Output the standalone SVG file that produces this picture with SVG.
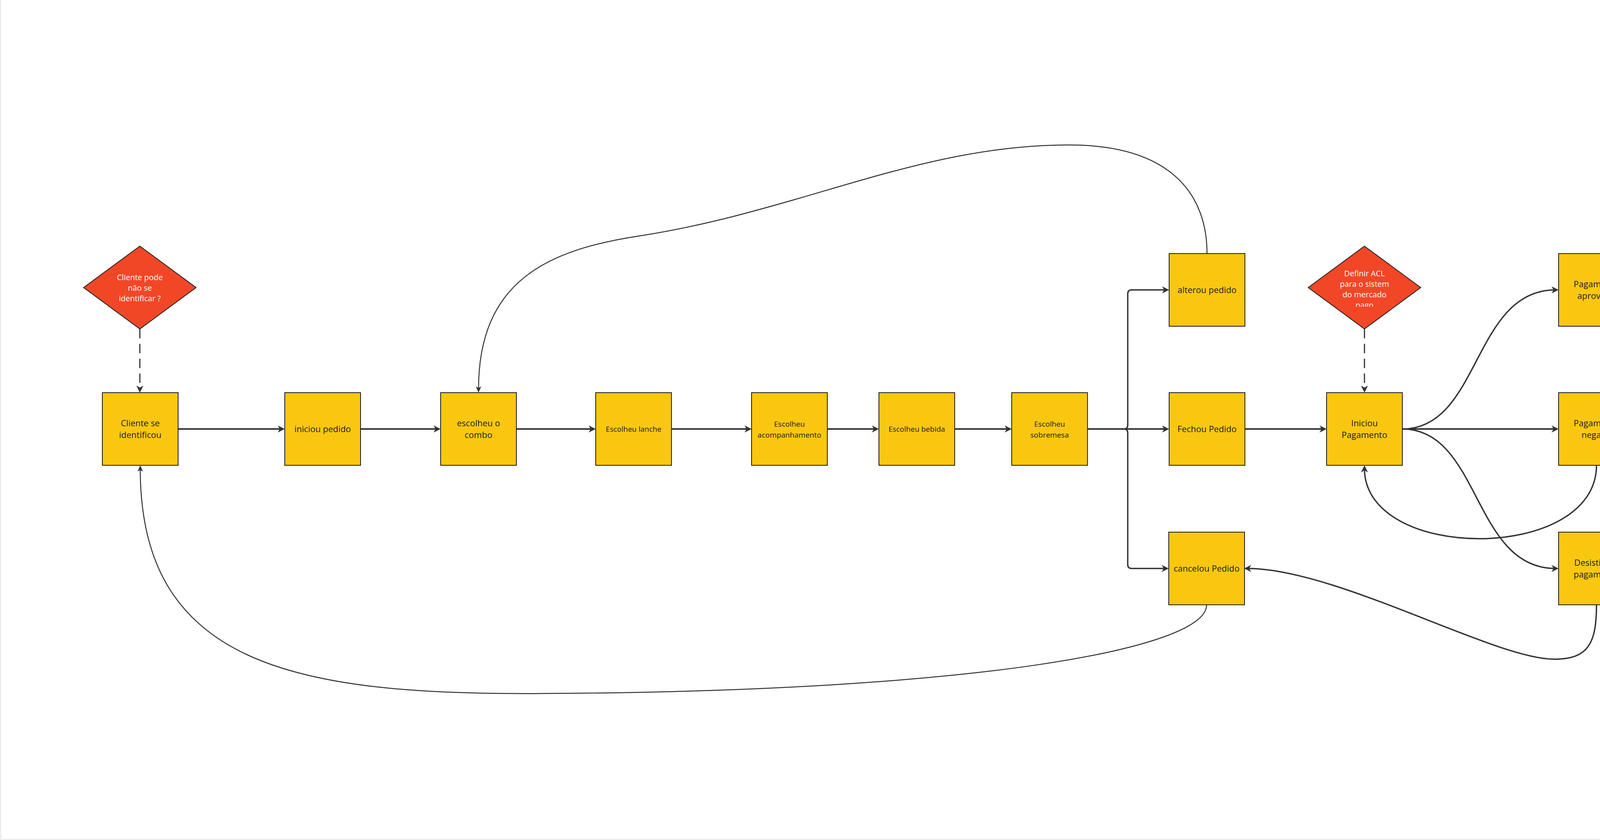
<svg xmlns="http://www.w3.org/2000/svg" width="7441" height="2150" viewBox="0 0 7441 2150">
  <defs>
    <style>
      .node rect { fill: #FAC710; stroke: #1a1a1a; stroke-width: 2; }
      .dec polygon { fill: #F24726; stroke: #1a1a1a; stroke-width: 2; }
      text { font-family: 'Open Sans', 'Liberation Sans', sans-serif; text-anchor: middle; }
      .t22 { font-size: 22px; fill: #1a1a1a; }
      .t19 { font-size: 19px; fill: #1a1a1a; }
      .d20 { font-size: 20px; fill: #ffffff; }
      .ln { fill: none; stroke: #333333; stroke-width: 4; }
      .tr { fill: none; stroke: #333333; stroke-width: 3.5; }
      .cv { fill: none; stroke: #333333; stroke-width: 3.5; }
      .cl { fill: none; stroke: #333333; stroke-width: 2.5; }
      .ds { fill: none; stroke: #333333; stroke-width: 3; stroke-dasharray: 24 14; }
    </style>
    <marker id="arr" markerUnits="userSpaceOnUse" markerWidth="20" markerHeight="20" refX="10" refY="9" orient="auto">
      <path d="M0,0 L18,9 L0,18 L5,9 Z" fill="#333333"/>
    </marker>
    <marker id="arrs" markerUnits="userSpaceOnUse" markerWidth="18" markerHeight="16" refX="8" refY="7" orient="auto">
      <path d="M0,0 L16,7 L0,14 L4,7 Z" fill="#333333"/>
    </marker>
    <clipPath id="clipD2">
      <rect x="3340" y="620" width="310" height="165"/>
    </clipPath>
  </defs>

  <rect x="0" y="0" width="7441" height="2150" fill="#ffffff"/>
  <rect x="0" y="0" width="3" height="2150" fill="#ececec"/>
  <rect x="0" y="2147" width="7441" height="3" fill="#ececec"/>

  <g id="connectors">
    <path class="ds" d="M358,842 V997" marker-end="url(#arr)"/>
    <path class="ds" d="M3493,842 V997" marker-end="url(#arr)"/>

    <path class="ln" d="M456,1098 H721" marker-end="url(#arr)"/>
    <path class="ln" d="M923,1098 H1120" marker-end="url(#arr)"/>
    <path class="ln" d="M1322,1098 H1517" marker-end="url(#arr)"/>
    <path class="ln" d="M1720,1098 H1916" marker-end="url(#arr)"/>
    <path class="ln" d="M2118,1098 H2242" marker-end="url(#arr)"/>
    <path class="ln" d="M2444,1098 H2582" marker-end="url(#arr)"/>

    <path class="ln" d="M2784,1098 H2985" marker-end="url(#arr)"/>
    <path class="tr" d="M2784,1098 H2877 Q2887,1098 2887,1088 V752 Q2887,742 2897,742 H2985" marker-end="url(#arr)"/>
    <path class="tr" d="M2784,1098 H2877 Q2887,1098 2887,1108 V1445 Q2887,1455 2897,1455 H2984" marker-end="url(#arr)"/>

    <path class="ln" d="M3187,1098 H3388" marker-end="url(#arr)"/>
    <path class="ln" d="M3590,1098 H3982" marker-end="url(#arr)"/>
    <path class="cv" d="M3590,1098 C3790,1098 3770,742 3982,742" marker-end="url(#arr)"/>
    <path class="cv" d="M3590,1098 C3790,1098 3770,1455 3982,1455" marker-end="url(#arr)"/>
    <path class="cv" d="M4087,1191 C4087,1440 3493,1440 3493,1199" marker-end="url(#arr)"/>
    <path class="cv" d="M4087,1548 C4087,1640 4070,1690 3975,1687 C3820,1684 3420,1455 3193,1455" marker-end="url(#arr)"/>
    <path class="cv" d="M4184,742 C4340,742 4360,1098 4533,1098" marker-end="url(#arr)"/>

    <path class="cl" d="M3090,649 C3090,500 3000,371 2737,371 C2350,371 2050,540 1636,604 C1400,640 1225,720 1225,997" marker-end="url(#arrs)"/>
    <path class="cl" d="M3089,1548 C3089,1660 2500,1770 1391,1775 C750,1780 359,1700 359,1199" marker-end="url(#arrs)"/>

    <path class="ln" d="M4736,1098 H4954" marker-end="url(#arr)"/>
    <path class="ln" d="M5157,1098 H5376" marker-end="url(#arr)"/>
    <path class="ln" d="M5578,1098 H5797" marker-end="url(#arr)"/>
    <path class="ln" d="M5999,1098 H6218" marker-end="url(#arr)"/>
    <path class="ln" d="M6420,1098 H6639" marker-end="url(#arr)"/>
  </g>

  <g id="d1" class="dec">
    <polygon points="358,630 502,736 358,842 214,736"/>
    <text class="d20" x="358" y="717">Cliente pode</text>
    <text class="d20" x="358" y="744">não se</text>
    <text class="d20" x="358" y="771">identificar ?</text>
  </g>

  <g id="d2" class="dec">
    <polygon points="3493,630 3637,736 3493,842 3349,736"/>
    <g clip-path="url(#clipD2)">
      <text class="d20" x="3493" y="707">Definir ACL</text>
      <text class="d20" x="3493" y="734">para o sistem</text>
      <text class="d20" x="3493" y="761">do mercado</text>
      <text class="d20" x="3493" y="788">pago</text>
    </g>
  </g>

  <g id="n1" class="node"><rect x="262" y="1005" width="194" height="186"/>
    <text class="t22" x="359" y="1091">Cliente se</text><text class="t22" x="359" y="1121">identificou</text></g>
  <g id="n2" class="node"><rect x="729" y="1005" width="194" height="186"/>
    <text class="t22" x="826" y="1106">iniciou pedido</text></g>
  <g id="n3" class="node"><rect x="1128" y="1005" width="194" height="186"/>
    <text class="t22" x="1225" y="1091">escolheu o</text><text class="t22" x="1225" y="1121">combo</text></g>
  <g id="n4" class="node"><rect x="1525" y="1005" width="194" height="186"/>
    <text class="t19" x="1622" y="1105">Escolheu lanche</text></g>
  <g id="n5" class="node"><rect x="1924" y="1005" width="194" height="186"/>
    <text class="t19" x="2021" y="1091.5">Escolheu</text><text class="t19" x="2021" y="1119.5">acompanhamento</text></g>
  <g id="n6" class="node"><rect x="2250" y="1005" width="194" height="186"/>
    <text class="t19" x="2347" y="1105">Escolheu bebida</text></g>
  <g id="n7" class="node"><rect x="2590" y="1005" width="194" height="186"/>
    <text class="t19" x="2687" y="1091.5">Escolheu</text><text class="t19" x="2687" y="1119.5">sobremesa</text></g>
  <g id="n8" class="node"><rect x="2993" y="649" width="194" height="186"/>
    <text class="t22" x="3090" y="750">alterou pedido</text></g>
  <g id="n9" class="node"><rect x="2993" y="1005" width="194" height="186"/>
    <text class="t22" x="3090" y="1106">Fechou Pedido</text></g>
  <g id="n10" class="node"><rect x="2992" y="1362" width="194" height="186"/>
    <text class="t22" x="3089" y="1463">cancelou Pedido</text></g>
  <g id="n11" class="node"><rect x="3396" y="1005" width="194" height="186"/>
    <text class="t22" x="3493" y="1091">Iniciou</text><text class="t22" x="3493" y="1121">Pagamento</text></g>
  <g id="n12" class="node"><rect x="3990" y="649" width="194" height="186"/>
    <text class="t22" x="4087" y="735">Pagamento</text><text class="t22" x="4087" y="765">aprovado</text></g>
  <g id="n13" class="node"><rect x="3990" y="1005" width="194" height="186"/>
    <text class="t22" x="4087" y="1091">Pagamento</text><text class="t22" x="4087" y="1121">negado</text></g>
  <g id="n14" class="node"><rect x="3990" y="1362" width="194" height="186"/>
    <text class="t22" x="4087" y="1448">Desistiu do</text><text class="t22" x="4087" y="1478">pagamento</text></g>
  <g id="n15" class="node"><rect x="4541" y="1005" width="194" height="186"/>
    <text class="t22" x="4638" y="1106">Pedido recebido</text></g>
  <g id="n16" class="node"><rect x="4962" y="1005" width="194" height="186"/>
    <text class="t22" x="5059" y="1091">inicou</text><text class="t22" x="5059" y="1121">preparação</text></g>
  <g id="n17" class="node"><rect x="5384" y="1005" width="194" height="186"/>
    <text class="t22" x="5481" y="1091">finalizou</text><text class="t22" x="5481" y="1121">preparação</text></g>
  <g id="n18" class="node"><rect x="5805" y="1005" width="194" height="186"/>
    <text class="t22" x="5902" y="1091">Notificou o</text><text class="t22" x="5902" y="1121">cliente</text></g>
  <g id="n19" class="node"><rect x="6226" y="1005" width="194" height="186"/>
    <text class="t22" x="6323" y="1106">Pedido retirado</text></g>
  <g id="n20" class="node"><rect x="6647" y="1005" width="194" height="186"/>
    <text class="t22" x="6744" y="1106">finalizou pedido</text></g>
</svg>
